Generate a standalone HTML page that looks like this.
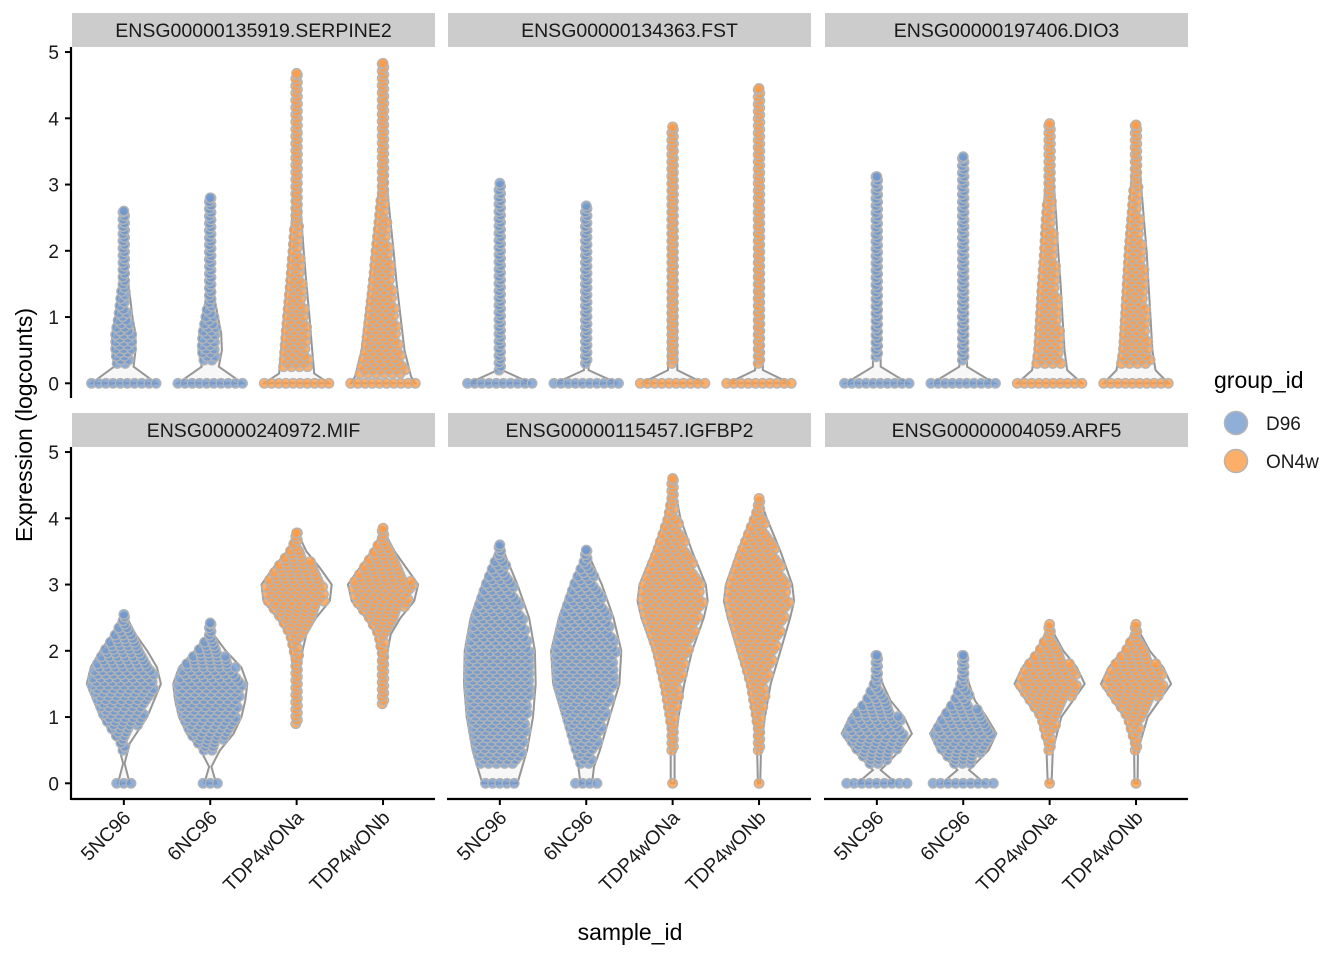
<!DOCTYPE html>
<html><head><meta charset="utf-8">
<style>
html,body{margin:0;padding:0;background:#fff;}
svg{display:block;font-family:"Liberation Sans",sans-serif;}
</style></head>
<body>
<svg id="chart" width="1344" height="960" viewBox="0 0 1344 960"></svg>
<script>
const samples = ["5NC96","6NC96","TDP4wONa","TDP4wONb"];
const genes = ["ENSG00000135919.SERPINE2","ENSG00000134363.FST","ENSG00000197406.DIO3","ENSG00000240972.MIF","ENSG00000115457.IGFBP2","ENSG00000004059.ARF5"];
const groups = ["D96","D96","ON4w","ON4w"];
const yTicks = [0,1,2,3,4,5];
// violin profiles: [value, relative half-width]
const profSERPINE2 = [
 [[0,0.83],[0.25,0.25],[0.5,0.3],[0.75,0.3],[1,0.22],[1.25,0.17],[1.5,0.12],[1.75,0.08],[2,0.06],[2.25,0.05],[2.5,0.04],[2.6,0.02]],
 [[0,0.83],[0.25,0.22],[0.5,0.3],[0.75,0.28],[1,0.2],[1.25,0.12],[1.5,0.08],[2,0.06],[2.5,0.05],[2.8,0.02]],
 [[0,0.83],[0.15,0.45],[0.5,0.4],[1,0.33],[1.5,0.25],[2,0.18],[2.5,0.12],[3,0.08],[3.5,0.05],[3.8,0.04],[4,0.02],[4.68,0.02]],
 [[0,0.83],[0.1,0.72],[0.5,0.55],[1,0.45],[1.5,0.35],[2,0.27],[2.5,0.18],[3,0.1],[3.5,0.06],[4,0.03],[4.83,0.02]]];
const profFST = [
 [[0,0.8],[0.2,0.06],[1,0.05],[2,0.03],[3.02,0.02]],
 [[0,0.8],[0.2,0.06],[1,0.06],[2,0.04],[2.68,0.02]],
 [[0,0.8],[0.2,0.12],[2,0.1],[3.5,0.08],[3.87,0.03]],
 [[0,0.8],[0.2,0.1],[2,0.09],[3.5,0.07],[4.45,0.03]]];
const profDIO3 = [
 [[0,0.8],[0.25,0.1],[1,0.1],[1.5,0.08],[2.3,0.05],[3.12,0.02]],
 [[0,0.8],[0.25,0.1],[1,0.1],[1.5,0.08],[2.5,0.05],[3.42,0.02]],
 [[0,0.83],[0.2,0.45],[0.5,0.38],[1,0.33],[1.5,0.28],[2,0.22],[2.5,0.17],[3,0.11],[3.5,0.05],[3.92,0.02]],
 [[0,0.83],[0.2,0.5],[0.5,0.42],[1,0.37],[1.5,0.32],[2,0.27],[2.5,0.2],[3,0.13],[3.5,0.07],[3.9,0.02]]];
const profMIF = [
 [[0,0.15],[0.3,0.02],[0.6,0.15],[1,0.6],[1.5,0.95],[1.75,0.85],[2,0.6],[2.25,0.3],[2.5,0.08],[2.55,0.02]],
 [[0,0.15],[0.25,0.03],[0.5,0.25],[0.75,0.6],[1,0.8],[1.25,0.9],[1.5,0.95],[1.75,0.8],[2,0.4],[2.25,0.08],[2.42,0.02]],
 [[0.9,0.02],[1.25,0.02],[1.5,0.05],[2,0.15],[2.25,0.25],[2.5,0.5],[2.75,0.85],[3,0.9],[3.25,0.6],[3.5,0.25],[3.75,0.05],[3.78,0.02]],
 [[1.2,0.02],[1.5,0.03],[2,0.12],[2.25,0.2],[2.5,0.45],[2.75,0.8],[3,0.9],[3.25,0.6],[3.5,0.3],[3.75,0.07],[3.85,0.02]]];
const profIGFBP2 = [
 [[0,0.45],[0.5,0.7],[1,0.85],[1.5,0.92],[2,0.9],[2.5,0.75],[3,0.45],[3.5,0.1],[3.6,0.02]],
 [[0,0.15],[0.25,0.2],[0.5,0.35],[1,0.6],[1.5,0.85],[2,0.9],[2.5,0.7],[3,0.4],[3.4,0.1],[3.52,0.02]],
 [[0,0.05],[0.5,0.05],[1,0.15],[1.5,0.3],[2,0.5],[2.5,0.8],[2.75,0.9],[3,0.85],[3.5,0.5],[4,0.2],[4.5,0.04],[4.6,0.02]],
 [[0,0.03],[0.5,0.05],[1,0.15],[1.5,0.3],[2,0.55],[2.5,0.8],[2.75,0.9],[3,0.85],[3.5,0.55],[4,0.2],[4.3,0.02]]];
const profARF5 = [
 [[0,0.5],[0.2,0.1],[0.5,0.6],[0.75,0.9],[1,0.7],[1.25,0.35],[1.5,0.15],[1.75,0.05],[1.93,0.02]],
 [[0,0.55],[0.2,0.15],[0.5,0.65],[0.75,0.85],[1,0.6],[1.25,0.3],[1.5,0.15],[1.75,0.05],[1.93,0.02]],
 [[0,0.05],[0.5,0.08],[1,0.3],[1.25,0.6],[1.5,0.9],[1.75,0.7],[2,0.35],[2.25,0.12],[2.4,0.02]],
 [[0,0.04],[0.5,0.05],[1,0.3],[1.25,0.6],[1.5,0.9],[1.75,0.7],[2,0.35],[2.25,0.12],[2.4,0.02]]];
// zero-value jitter half-width and lowest non-zero value per violin
const zeroW = [[0.45,0.45,0.45,0.45],[0.45,0.45,0.45,0.45],[0.45,0.45,0.45,0.45],[0.1,0.1,0,0],[0.2,0.15,0.02,0.02],[0.42,0.42,0.02,0.02]];
const minNZ = [[0.3,0.35,0.25,0.15],[0.2,0.3,0.3,0.3],[0.4,0.35,0.3,0.3],[0.5,0.5,0.9,1.2],[0.3,0.3,0.5,0.5],[0.3,0.3,0.5,0.5]];
const profiles = [profSERPINE2,profFST,profDIO3,profMIF,profIGFBP2,profARF5];

const NS="http://www.w3.org/2000/svg";
const svg=document.getElementById('chart');
function mk(tag,attrs,parent){const e=document.createElementNS(NS,tag);for(const k in attrs)e.setAttribute(k,attrs[k]);(parent||svg).appendChild(e);return e;}
const panelX=[72,448,825], panelW=363;
const rowTop=[47,447], rowBottom=[397,799], zeroY=[383.3,783.3], unit=66.25;
const HW=39, bandStep=86.4, PR=4.8;
const fillC={D96:"rgba(112,152,206,0.78)",ON4w:"rgba(252,156,72,0.82)"};
function xPos(p,i){return panelX[p]+bandStep*(0.6+i);}
function yPos(r,v){return zeroY[r]-unit*v;}
function hwAt(prof,v){if(v<prof[0][0]||v>prof[prof.length-1][0])return 0;for(let k=0;k<prof.length-1;k++){const a=prof[k],b=prof[k+1];if(v>=a[0]&&v<=b[0]){const t=(v-a[0])/((b[0]-a[0])||1);return a[1]+(b[1]-a[1])*t;}}return prof[prof.length-1][1];}

for(let g=0;g<genes.length;g++){
  const r=Math.floor(g/3), p=g%3;
  const G=mk('g',{},svg);
  
  
  const strip=mk('rect',{x:panelX[p],y:rowTop[r]-34,width:panelW,height:34,fill:'#cccccc'},G);
  
  
  const st=mk('text',{x:panelX[p]+panelW/2,y:rowTop[r]-10,'text-anchor':'middle','font-size':19.5,fill:'#1a1a1a'},G);
  st.textContent=genes[g];
  
  
  for(let i=0;i<samples.length;i++){
    const prof=profiles[g][i], cx=xPos(p,i);
    let L=[],R=[];
    for(const pt of prof){L.push([cx-pt[1]*HW,yPos(r,pt[0])]);R.push([cx+pt[1]*HW,yPos(r,pt[0])]);}
    const top=prof[prof.length-1][0];
    const d='M'+[...R,...L.reverse()].map(q=>q[0].toFixed(1)+','+q[1].toFixed(1)).join('L')+'Z';
    const vio=mk('path',{d:d,fill:'#f7f7f7',stroke:'#969696','stroke-width':2},G);
    
    
    const pg=mk('g',{fill:fillC[groups[i]],stroke:'#b4b4b4','stroke-width':1.3},G);
    
    
    // zero row
    const zh=zeroW[g][i]*HW*2*0.92;
    if(zeroW[g][i]>0){
      if(zh<6){mk('circle',{cx:cx,cy:yPos(r,0).toFixed(1),r:PR},pg);}
      else{
        const n=Math.max(2,Math.round(2*zh/7.5));
        for(let k=0;k<=n;k++){mk('circle',{cx:(cx-zh+2*zh*k/n).toFixed(1),cy:yPos(r,0).toFixed(1),r:PR},pg);}
      }
    }
    // body
    let row=0;
    for(let y=yPos(r,minNZ[g][i]); y>=yPos(r,top)-0.1; y-=3.6, row++){
      const v=(zeroY[r]-y)/unit;
      const hw=hwAt(prof,v)*HW*0.95;
      if(hw<5){mk('circle',{cx:(cx+(row%2?0.8:-0.8)).toFixed(1),cy:y.toFixed(1),r:PR},pg);continue;}
      const off=(row%2)?4:0;
      for(let x=-hw+3+off;x<=hw-3;x+=8) mk('circle',{cx:(cx+x).toFixed(1),cy:y.toFixed(1),r:PR},pg);
    }
    mk('circle',{cx:cx,cy:yPos(r,top).toFixed(1),r:PR},pg);
  }
  if(r===1){
    const ax=mk('line',{x1:panelX[p]-1,x2:panelX[p]+panelW,y1:rowBottom[r],y2:rowBottom[r],stroke:'#000','stroke-width':2.2},G);
    
    
    for(let i=0;i<samples.length;i++){
      const cx=xPos(p,i);
      mk('line',{x1:cx,x2:cx,y1:rowBottom[r],y2:rowBottom[r]+6,stroke:'#000','stroke-width':2},G);
      const tx=cx+8, ty=rowBottom[r]+20;
      const t=mk('text',{x:tx,y:ty,'text-anchor':'end','font-size':19.5,fill:'#1a1a1a',transform:`rotate(-45 ${tx} ${ty})`},G);
      t.textContent=samples[i];
      
      
    }
  }
  if(p===0){
    const ay=mk('line',{x1:71,x2:71,y1:rowTop[r],y2:rowBottom[r]+1,stroke:'#000','stroke-width':2.2},G);
    
    
    for(const v of yTicks){
      const y=yPos(r,v);
      mk('line',{x1:65,x2:71,y1:y,y2:y,stroke:'#000','stroke-width':2},G);
      const t=mk('text',{x:59,y:y+7,'text-anchor':'end','font-size':19,fill:'#1a1a1a'},G);
      t.textContent=v;
      
      
    }
  }
}
const yt=mk('text',{x:32,y:425,'text-anchor':'middle','font-size':23,fill:'#000',transform:'rotate(-90 32 425)'});
yt.textContent='Expression (logcounts)';


const xt=mk('text',{x:630,y:940,'text-anchor':'middle','font-size':23,fill:'#000'});
xt.textContent='sample_id';


const lg=mk('g',{});


const lt=mk('text',{x:1214,y:388,'font-size':23,fill:'#000'},lg);
lt.textContent='group_id';


const legItems=[["D96",423],["ON4w",461]];
for(const [nm,y] of legItems){
  const c=mk('circle',{cx:1236,cy:y,r:11.5,fill:fillC[nm],stroke:'#b4b4b4','stroke-width':1.5},lg);
  
  
  const t=mk('text',{x:1266,y:y+7,'font-size':19,fill:'#1a1a1a'},lg);
  t.textContent=nm;
  
  
}
</script>
</body></html>
